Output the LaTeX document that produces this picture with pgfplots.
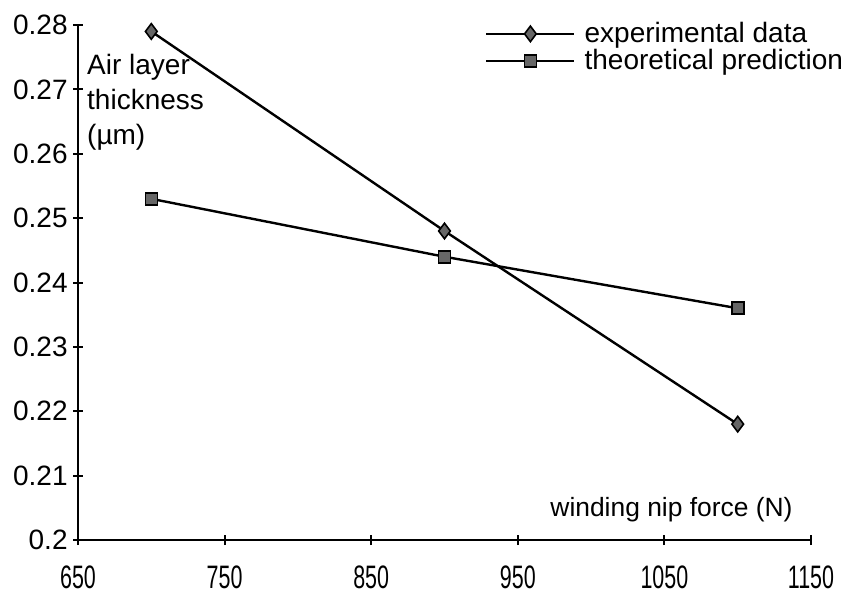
\documentclass[border=0pt]{standalone}
\usepackage{pgfplots}
\pgfplotsset{compat=1.18}
\usepackage{fontspec}
\setmainfont{Liberation Sans}
\usetikzlibrary{calc}

\begin{document}
\begin{tikzpicture}
\begin{axis}[
    name=ax,
    scale only axis,
    width=366.5pt, height=257.5pt,
    xmin=650, xmax=1150,
    ymin=0.2, ymax=0.28,
    xtick={650,750,...,1150},
    ytick={0.2,0.21,...,0.28},
    axis x line*=bottom,
    axis y line*=left,
    axis line style={line width=1.2pt, -},
    tick align=center,
    major tick length=5pt,
    tick style={line width=1pt, black},
    /pgf/number format/assume math mode=true,
    /pgf/number format/fixed,
    /pgf/number format/precision=2,
    /pgf/number format/1000 sep={},
    yticklabel style={font=\fontsize{14}{16}\selectfont, inner sep=0pt, xshift=-2.5pt},
    xticklabel style={font=\fontsize{14.5}{16}\selectfont, inner sep=0pt, anchor=north, yshift=-10pt, xscale=0.74, yscale=1.12},
    clip=false,
    legend style={draw=none, fill=none, at={(0.555,1.012)}, anchor=north west,
        font=\fontsize{14}{16}\selectfont, inner sep=0pt, row sep=-1pt,
        nodes={inner ysep=1.5pt, inner xsep=4.5pt}},
    legend cell align=left,
    legend image code/.code={
        \draw[#1, mark repeat=2, mark phase=2] plot coordinates {(0pt,0pt) (22pt,0pt) (44pt,0pt)};
    },
]
\addplot[black, line width=1.2pt, mark=diamond*, mark size=3.9pt,
    mark options={fill=black!60, draw=black, line width=0.8pt}]
    coordinates {(700,0.279) (900,0.248) (1100,0.218)};
\addlegendentry{experimental data}
\addplot[black, line width=1.2pt, mark=square*, mark size=3pt,
    mark options={fill=black!60, draw=black, line width=0.8pt}]
    coordinates {(700,0.253) (900,0.244) (1100,0.236)};
\addlegendentry{theoretical prediction}

\node[anchor=north west, align=left, inner sep=0pt, font=\fontsize{14}{17.5}\selectfont]
    at (axis cs:656,0.2755) {Air layer\\thickness\\(µm)};
\node[anchor=east, inner sep=0pt, font=\fontsize{13.2}{16}\selectfont]
    at (axis cs:1137.7,0.2047) {winding nip force (N)};
\end{axis}
\pgfresetboundingbox
\path ($(ax.south west)+(-39pt,-27pt)$) rectangle ($(ax.north east)+(26.5pt,12.5pt)$);
\end{tikzpicture}
\end{document}
